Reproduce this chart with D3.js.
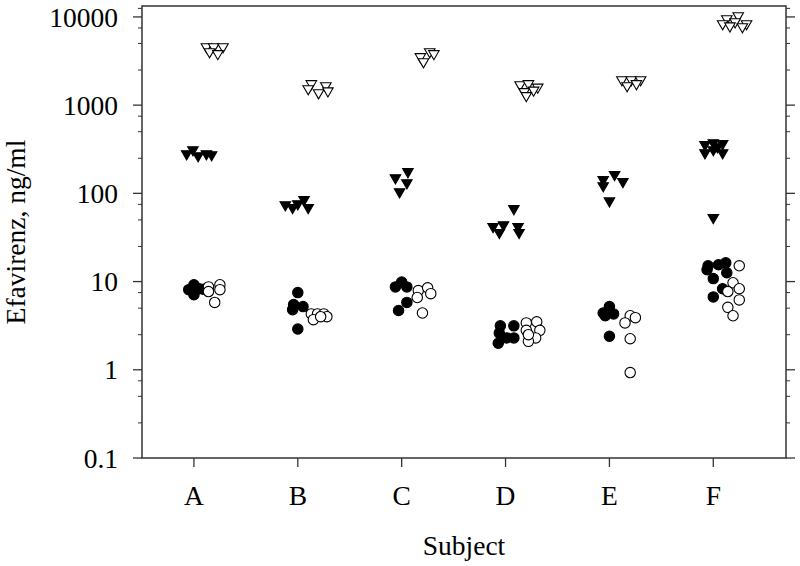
<!DOCTYPE html>
<html>
<head>
<meta charset="utf-8">
<script src="https://cdn.jsdelivr.net/npm/d3@7"></script>
<style>
  body { margin: 0; background: #fff; }
  text { font-family: "Liberation Serif", "Times New Roman", serif; fill: #000; }
</style>
</head>
<body>
<svg id="chart" width="800" height="566"></svg>
<script>
// subjects on the x axis
var subjects = ["A", "B", "C", "D", "E", "F"];
var yTicks = [0.1, 1, 10, 100, 1000, 10000];

// [x, efavirenz ng/ml], x = subject index + jitter
var filledCircles = [
    [1.00, 9.2], [0.95, 8.1], [1.05, 8.3], [1.00, 7.1], [1.09, 8.2],
    [2.00, 7.5], [1.96, 5.5], [2.05, 5.2], [1.95, 4.8], [2.00, 2.9],
    [3.00, 9.9], [2.94, 8.7], [3.05, 8.7], [3.05, 5.8], [2.97, 4.7],
    [3.95, 3.15], [4.08, 3.15], [3.94, 2.6], [4.01, 2.3], [4.08, 2.3], [3.93, 2.0],
    [5.00, 5.2], [4.94, 4.4], [5.04, 4.3], [4.96, 4.1], [5.00, 2.4],
    [5.95, 15.1], [6.05, 15.5], [6.12, 16.3], [5.94, 13.6], [6.13, 12.6], [6.00, 10.8], [6.09, 8.3], [6.00, 6.7]
];
var openCircles = [
    [1.14, 8.7], [1.25, 9.2], [1.25, 8.1], [1.14, 7.7], [1.20, 5.8],
    [2.13, 4.3], [2.19, 4.3], [2.25, 4.3], [2.15, 3.7], [2.28, 4.0], [2.22, 4.0],
    [3.16, 7.9], [3.25, 8.5], [3.28, 7.3], [3.15, 6.6], [3.20, 4.4],
    [4.20, 3.4], [4.30, 3.5], [4.20, 2.8], [4.33, 2.8], [4.29, 2.3], [4.22, 2.1], [4.22, 2.5],
    [5.20, 4.1], [5.25, 3.9], [5.15, 3.4], [5.20, 2.25], [5.20, 0.93],
    [6.25, 15.1], [6.19, 9.7], [6.25, 8.3], [6.25, 6.2], [6.14, 7.7], [6.14, 5.1], [6.19, 4.1]
];
var filledTriangles = [
    [0.99, 312], [0.93, 281], [1.04, 267], [1.12, 281], [1.17, 274],
    [1.88, 74], [1.95, 69], [2.06, 85], [2.10, 69], [2.00, 76],
    [3.06, 176], [2.94, 150], [3.05, 132], [2.98, 104],
    [4.08, 67], [3.88, 42], [3.98, 44], [4.12, 42], [3.94, 36], [4.13, 36],
    [5.05, 163], [4.94, 143], [5.13, 136], [4.94, 122], [5.00, 82],
    [5.92, 356], [6.00, 375], [6.09, 367], [5.92, 288], [6.00, 312], [6.09, 288], [6.04, 337], [6.00, 53]
];
var openTriangles = [
    [1.12, 4590], [1.19, 4590], [1.28, 4590], [1.15, 4030], [1.23, 3830],
    [2.13, 1750], [2.27, 1660], [2.10, 1535], [2.20, 1380], [2.29, 1450],
    [3.18, 3540], [3.27, 4030], [3.31, 3830], [3.21, 3100],
    [4.14, 1700], [4.22, 1750], [4.31, 1600], [4.18, 1420], [4.27, 1480], [4.20, 1280],
    [5.12, 1940], [5.21, 1940], [5.30, 1940], [5.17, 1660], [5.26, 1750],
    [6.13, 9540], [6.24, 10300], [6.09, 8370], [6.32, 8370], [6.21, 8800], [6.28, 7740], [6.16, 7900]
];

var plotLeft = 142, plotRight = 786, plotTop = 6, plotBottom = 458,
    fontSize = "27.5px";

var svg = d3.select("#chart");

var x = d3.scaleLinear().domain([0.5, 6.7]).range([plotLeft, plotRight]);
var y = d3.scaleLog().domain([0.1, 13300]).range([plotBottom, plotTop]);

// minor ticks at 2.5, 5, 7.5 of each decade
var minor = [];
yTicks.slice(0, -1).forEach(function(t) {
    [2.5, 5, 7.5].forEach(function(m) { minor.push(t * m); });
});
minor.push(12500);

var axisColor = "#333";

// left axis
var yAxis = svg.append("g").attr("transform", "translate(" + plotLeft + ",0)");
yAxis.selectAll(".major").data(yTicks).enter().append("line")
    .attr("x1", -9).attr("x2", 0)
    .attr("y1", function(d) { return y(d); }).attr("y2", function(d) { return y(d); })
    .attr("stroke", axisColor).attr("stroke-width", 1.3);
yAxis.selectAll(".minor").data(minor).enter().append("line")
    .attr("x1", -4).attr("x2", 0)
    .attr("y1", function(d) { return y(d); }).attr("y2", function(d) { return y(d); })
    .attr("stroke", axisColor).attr("stroke-width", 1);
yAxis.selectAll("text").data(yTicks).enter().append("text")
    .attr("x", -24)
    .attr("y", function(d) { return y(d); })
    .attr("dy", "0.35em")
    .attr("text-anchor", "end")
    .style("font-size", fontSize)
    .text(function(d) { return d === 0.1 ? "0.1" : d3.format("d")(d); });

// right axis ticks, pointing outward
var rAxis = svg.append("g").attr("transform", "translate(" + plotRight + ",0)");
rAxis.selectAll(".major").data(yTicks).enter().append("line")
    .attr("x1", 0).attr("x2", 9)
    .attr("y1", function(d) { return y(d); }).attr("y2", function(d) { return y(d); })
    .attr("stroke", axisColor).attr("stroke-width", 1.3);
rAxis.selectAll(".minor").data(minor).enter().append("line")
    .attr("x1", 0).attr("x2", 4)
    .attr("y1", function(d) { return y(d); }).attr("y2", function(d) { return y(d); })
    .attr("stroke", axisColor).attr("stroke-width", 1);

// bottom axis
var xAxis = svg.append("g").attr("transform", "translate(0," + plotBottom + ")");
xAxis.selectAll("line").data(subjects).enter().append("line")
    .attr("x1", function(d, i) { return x(i + 1); })
    .attr("x2", function(d, i) { return x(i + 1); })
    .attr("y1", 0).attr("y2", 9)
    .attr("stroke", axisColor).attr("stroke-width", 1.3);
xAxis.selectAll("text").data(subjects).enter().append("text")
    .attr("x", function(d, i) { return x(i + 1); })
    .attr("y", 47)
    .attr("text-anchor", "middle")
    .style("font-size", fontSize)
    .text(function(d) { return d; });

// frame
svg.append("rect")
    .attr("x", plotLeft).attr("y", plotTop)
    .attr("width", plotRight - plotLeft).attr("height", plotBottom - plotTop)
    .attr("fill", "none")
    .attr("stroke", axisColor).attr("stroke-width", 1.5);

// axis titles
svg.append("text")
    .attr("x", (plotLeft + plotRight) / 2)
    .attr("y", 555)
    .attr("text-anchor", "middle")
    .style("font-size", fontSize)
    .text("Subject");

svg.append("text")
    .attr("transform", "translate(25,232) rotate(-90)")
    .attr("text-anchor", "middle")
    .style("font-size", fontSize)
    .text("Efavirenz, ng/ml");

// marks
var tri = d3.symbol().type(d3.symbolTriangle).size(48);

function drawCircles(data, fill) {
    svg.append("g").selectAll("circle").data(data).enter().append("circle")
        .attr("cx", function(d) { return x(d[0]); })
        .attr("cy", function(d) { return y(d[1]); })
        .attr("r", 5.2)
        .attr("fill", fill)
        .attr("stroke", "#000")
        .attr("stroke-width", 1.1);
}

function drawTriangles(data, fill) {
    svg.append("g").selectAll("path").data(data).enter().append("path")
        .attr("d", tri)
        .attr("transform", function(d) {
            return "translate(" + x(d[0]) + "," + y(d[1]) + ") rotate(180)";
        })
        .attr("fill", fill)
        .attr("stroke", "#000")
        .attr("stroke-width", 1.1);
}

drawCircles(filledCircles, "#000");
drawCircles(openCircles, "#fff");
drawTriangles(filledTriangles, "#000");
drawTriangles(openTriangles, "#fff");
</script>
</body>
</html>
